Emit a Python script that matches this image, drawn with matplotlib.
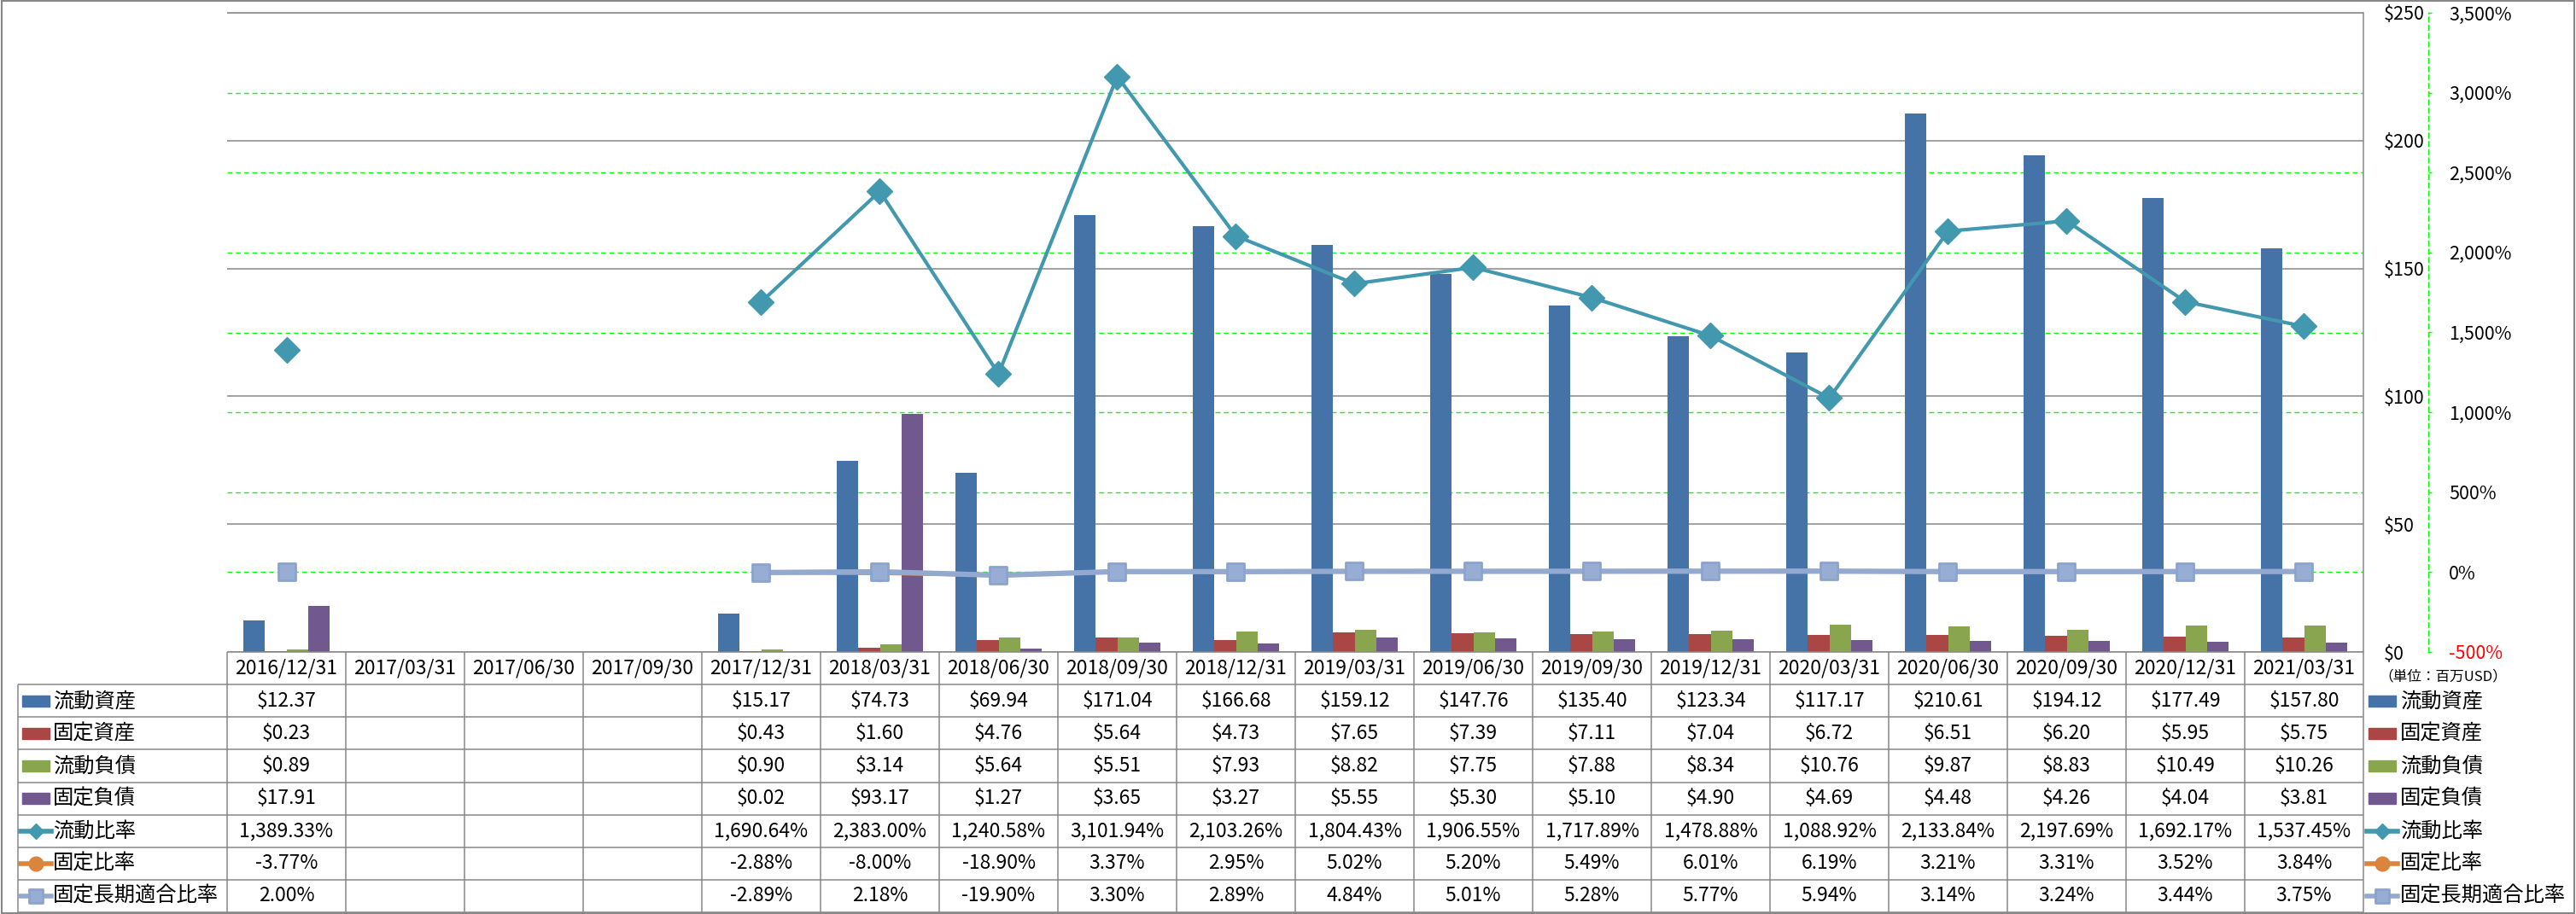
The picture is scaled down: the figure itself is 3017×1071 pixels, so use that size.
#!/usr/bin/env python3

import numpy as np
import matplotlib
matplotlib.use("Agg")
from matplotlib import pyplot as plt
from matplotlib.markers import MarkerStyle
from matplotlib.patches import Rectangle
from matplotlib.transforms import blended_transform_factory

plt.rcParams["font.family"] = ["Noto Sans CJK JP", "DejaVu Sans"]

nan = np.nan

dates = ["2016/12/31", "2017/03/31", "2017/06/30", "2017/09/30", "2017/12/31",
         "2018/03/31", "2018/06/30", "2018/09/30", "2018/12/31", "2019/03/31",
         "2019/06/30", "2019/09/30", "2019/12/31", "2020/03/31", "2020/06/30",
         "2020/09/30", "2020/12/31", "2021/03/31"]
current_assets = [12.37, nan, nan, nan, 15.17, 74.73, 69.94, 171.04, 166.68, 159.12,
                  147.76, 135.40, 123.34, 117.17, 210.61, 194.12, 177.49, 157.80]
fixed_assets = [0.23, nan, nan, nan, 0.43, 1.60, 4.76, 5.64, 4.73, 7.65,
                7.39, 7.11, 7.04, 6.72, 6.51, 6.20, 5.95, 5.75]
current_liab = [0.89, nan, nan, nan, 0.90, 3.14, 5.64, 5.51, 7.93, 8.82,
                7.75, 7.88, 8.34, 10.76, 9.87, 8.83, 10.49, 10.26]
fixed_liab = [17.91, nan, nan, nan, 0.02, 93.17, 1.27, 3.65, 3.27, 5.55,
              5.30, 5.10, 4.90, 4.69, 4.48, 4.26, 4.04, 3.81]
current_ratio = [1389.33, nan, nan, nan, 1690.64, 2383.00, 1240.58, 3101.94, 2103.26, 1804.43,
                 1906.55, 1717.89, 1478.88, 1088.92, 2133.84, 2197.69, 1692.17, 1537.45]
fixed_ratio = [-3.77, nan, nan, nan, -2.88, -8.00, -18.90, 3.37, 2.95, 5.02,
               5.20, 5.49, 6.01, 6.19, 3.21, 3.31, 3.52, 3.84]
fixed_lt_ratio = [2.00, nan, nan, nan, -2.89, 2.18, -19.90, 3.30, 2.89, 4.84,
                  5.01, 5.28, 5.77, 5.94, 3.14, 3.24, 3.44, 3.75]

bar_names = ["流動資産", "固定資産", "流動負債", "固定負債"]
line_names = ["流動比率", "固定比率", "固定長期適合比率"]
bar_colors = ["#4572A7", "#AA4643", "#89A54E", "#71588F"]
line_colors = ["#4198AF", "#DB843D", "#93A9CF"]

usd_ticks = [0, 50, 100, 150, 200, 250]
pct_ticks = list(range(-500, 3501, 500))
unit_label = "（単位：百万USD）"

# layout in pixels of the 3017x1071 picture
W, H = 3017, 1071
PLOT_L, PLOT_R, PLOT_T, PLOT_B = 266, 2768, 15, 764
TABLE_L, TABLE_B = 21, 1069
GRAY = "#878787"
GREEN = "#00FF00"


def box(x0, y0, x1, y1):
    return [x0 / W, 1 - y1 / H, (x1 - x0) / W, (y1 - y0) / H]


fig = plt.figure(figsize=(W / 100, H / 100), dpi=100)
fig.patches.append(Rectangle((0.0005, 0.001), 0.999, 0.998, transform=fig.transFigure,
                             fill=False, ec=GRAY, lw=1.5))

ax = fig.add_axes(box(PLOT_L, PLOT_T, PLOT_R, PLOT_B))
ax2 = ax.twinx()

n = len(dates)
x = np.arange(n)
bw = 0.183
bar_series = [current_assets, fixed_assets, current_liab, fixed_liab]
for k, vals in enumerate(bar_series):
    ax.bar(x + (k - 1.5) * bw, vals, bw, color=bar_colors[k], zorder=2)

# green dashed grid of the % axis, drawn in ax so it stays under the bars
ax.hlines(pct_ticks[1:-1], 0, 1, transform=blended_transform_factory(ax.transAxes, ax2.transData),
          colors=GREEN, lw=1, linestyles=(0, (4, 3)), zorder=0.4)

ax.set_xlim(-0.5, n - 0.5)
ax.set_ylim(0, 250)
ax.set_xticks([])
ax.yaxis.tick_right()
ax.set_yticks(usd_ticks, ["${}".format(v) for v in usd_ticks])
ax.tick_params(axis="y", length=0, pad=17, labelsize=15.5)
ax.yaxis.grid(True, color=GRAY, lw=1.1)
ax.set_axisbelow(True)
for s in ("left", "top", "bottom"):
    ax.spines[s].set_visible(False)
ax.spines["right"].set_color(GRAY)
ax.spines["right"].set_linewidth(1.1)
ax.hlines(250, 0, 1, transform=blended_transform_factory(ax.transAxes, ax.transData),
          colors=GRAY, lw=1.1, clip_on=False)

ax2.set_ylim(-500, 3500)
ax2.set_yticks(pct_ticks, ["{:,}%".format(v) for v in pct_ticks])
for s in ("left", "top", "bottom"):
    ax2.spines[s].set_visible(False)
ax2.spines["right"].set_position(("outward", 55))
ax2.spines["right"].set_color(GREEN)
ax2.spines["right"].set_linestyle((0, (4, 3)))
ax2.spines["right"].set_linewidth(1)
ax2.tick_params(axis="y", length=3, width=1, color=GREEN, pad=14, labelsize=15.5)
ax2.yaxis.get_major_ticks()[0].label2.set_color("red")

sq = MarkerStyle("s", joinstyle="round")
ax2.plot(x, current_ratio, color=line_colors[0], lw=3, marker="D", ms=15, zorder=3)
ax2.plot(x, fixed_ratio, color=line_colors[1], lw=3, marker="o", ms=13, zorder=4)
ax2.plot(x, fixed_lt_ratio, color=line_colors[2], lw=4.5, marker=sq, ms=14.5, mew=2,
         mfc="#97ADD4", mec="#8CA3CE", zorder=5)

# data table under the plot
px_x = (PLOT_R - PLOT_L) / n
px_y = (TABLE_B - PLOT_B) / 8
xl = -0.5 - (PLOT_L - TABLE_L) / px_x
tax = fig.add_axes(box(TABLE_L, PLOT_B, PLOT_R, TABLE_B))
tax.set_xlim(xl, n - 0.5)
tax.set_ylim(8, 0)
tax.axis("off")

grid_kw = dict(colors=GRAY, lw=1.1, clip_on=False)
tax.hlines(0, -0.5, n - 0.5, **grid_kw)
tax.hlines(np.arange(1, 9), xl, n - 0.5, **grid_kw)
tax.vlines(np.arange(n + 1) - 0.5, 0, 8, **grid_kw)
tax.vlines(xl, 1, 8, **grid_kw)

for i, d in enumerate(dates):
    tax.text(i, 0.5, d, ha="center", va="center", fontsize=16.5)

rows = [(current_assets, "${:.2f}"), (fixed_assets, "${:.2f}"),
        (current_liab, "${:.2f}"), (fixed_liab, "${:.2f}"),
        (current_ratio, "{:,.2f}%"), (fixed_ratio, "{:,.2f}%"),
        (fixed_lt_ratio, "{:,.2f}%")]
for r, (vals, fmt) in enumerate(rows):
    for i, v in enumerate(vals):
        if not np.isnan(v):
            tax.text(i, r + 1.5, fmt.format(v), ha="center", va="center", fontsize=16.5)


def swatch(xc, y, k):
    if k < 4:
        tax.add_patch(Rectangle((xc - 16 / px_x, y - 6.5 / px_y), 32 / px_x, 13 / px_y,
                                color=bar_colors[k], clip_on=False))
        return
    d = 18 / px_x
    c = line_colors[k - 4]
    if k == 4:
        kw = dict(marker="D", ms=9, mfc=c, mec=c)
    elif k == 5:
        kw = dict(marker="o", ms=12, mfc=c, mec=c)
    else:
        kw = dict(marker=sq, ms=11, mew=2, mfc="#97ADD4", mec="#8CA3CE")
    tax.plot([xc - d, xc, xc + d], [y, y, y], color=c, lw=4, markevery=[1],
             clip_on=False, **kw)


names = bar_names + line_names
for k, name in enumerate(names):
    y = k + 1.5
    swatch(xl + (42 - TABLE_L) / px_x, y, k)
    tax.text(xl + (62 - TABLE_L) / px_x, y, name, ha="left", va="center", fontsize=17.5)
    swatch(n - 0.5 + (2790 - PLOT_R) / px_x, y, k)
    tax.text(n - 0.5 + (2811 - PLOT_R) / px_x, y, name, ha="left", va="center", fontsize=17.5)

fig.text(2786 / W, 1 - 793 / H, unit_label, ha="left", va="center", fontsize=12)

fig.savefig("out.png", dpi=100)
